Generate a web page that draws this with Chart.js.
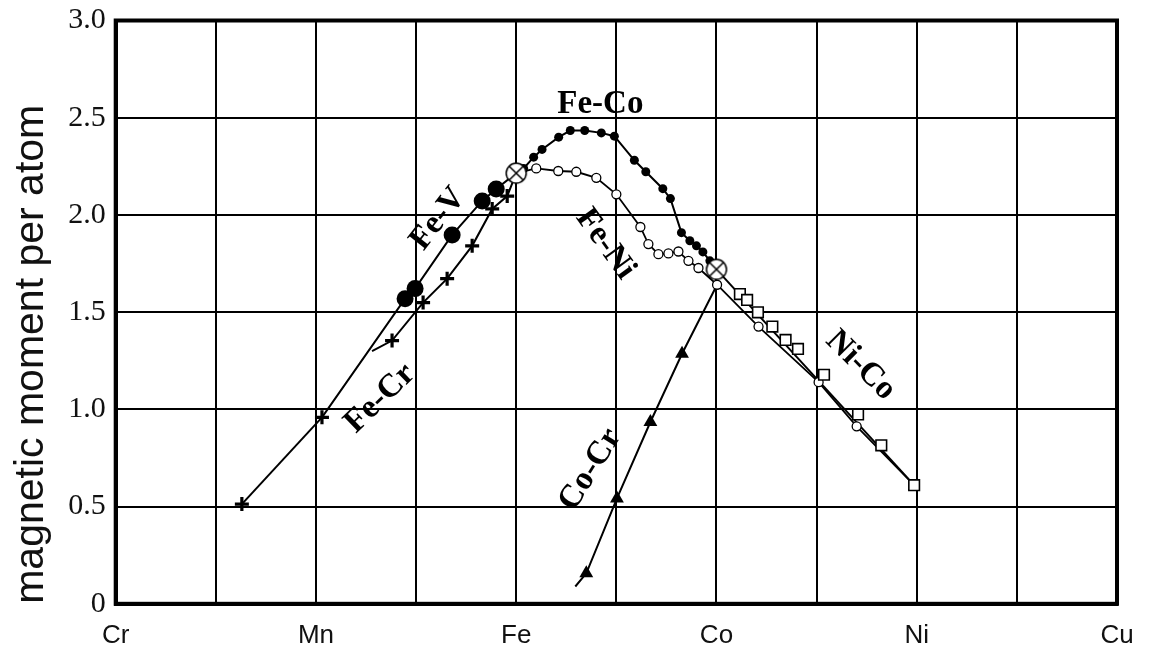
<!DOCTYPE html>
<html>
<head>
<meta charset="utf-8">
<script src="https://cdn.jsdelivr.net/npm/chart.js@4"></script>
<style>
  html, body { margin: 0; padding: 0; background: #fff; }
  #wrap { width: 1151px; height: 653px; }
</style>
</head>
<body>
<div id="wrap"><canvas id="chart"></canvas></div>
<script>
// x axis: number of outer electrons, Cr=24 ... Cu=29
const elementNames = ['Cr', 'Mn', 'Fe', 'Co', 'Ni', 'Cu'];
const yTicks = [0, 0.5, 1.0, 1.5, 2.0, 2.5, 3.0];

// pure Fe and pure Co (crossed circles)
const junctionX = [26.0, 27.0];
const junctionY = [2.215, 1.72];

// Fe-Co, filled small dots
const feCoX = [26.0, 26.037, 26.087, 26.129, 26.212, 26.27, 26.342, 26.425, 26.49, 26.59, 26.647, 26.732, 26.77, 26.825, 26.867, 26.90, 26.932, 26.967, 27.0];
const feCoY = [2.215, 2.239, 2.297, 2.337, 2.40, 2.434, 2.434, 2.422, 2.405, 2.281, 2.222, 2.135, 2.084, 1.909, 1.867, 1.841, 1.81, 1.764, 1.72];

// Fe-Ni, open circles (last point is the Ni end of the line)
const feNiX = [26.0, 26.10, 26.21, 26.30, 26.40, 26.50, 26.62, 26.66, 26.71, 26.76, 26.81, 26.86, 26.91, 27.003, 27.21, 27.51, 27.70, 27.987];
const feNiY = [2.215, 2.239, 2.226, 2.222, 2.191, 2.106, 1.938, 1.85, 1.798, 1.802, 1.812, 1.764, 1.727, 1.641, 1.426, 1.14, 0.913, 0.61];

// Fe-V, large filled dots (first point is where the line leaves the Mn cross)
const feVX = [25.03, 25.445, 25.495, 25.68, 25.83, 25.90, 26.0];
const feVY = [0.959, 1.569, 1.621, 1.897, 2.072, 2.133, 2.215];

// Fe-Cr, crosses (third point is the branch off the Fe-V line)
const feCrX = [24.63, 25.03, 25.28, 25.38, 25.535, 25.655, 25.78, 25.88, 25.955, 26.0];
const feCrY = [0.513, 0.959, 1.30, 1.354, 1.549, 1.672, 1.841, 2.031, 2.097, 2.215];

// Ni-Co, open squares
const niCoX = [27.117, 27.153, 27.207, 27.279, 27.345, 27.407, 27.537, 27.707, 27.823, 27.987];
const niCoY = [1.593, 1.563, 1.499, 1.426, 1.357, 1.311, 1.178, 0.974, 0.815, 0.61];

// Co-Cr, filled triangles (line runs from first to last point)
const coCrX = [26.295, 26.35, 26.503, 26.67, 26.828, 27.003];
const coCrY = [0.089, 0.157, 0.542, 0.935, 1.286, 1.641];

// curve names written on the plot: [text, x, y, angle in degrees]
const curveLabels = [
  ['Fe-Co', 26.42, 2.57, 0],
  ['Fe-V', 25.61, 1.98, -52],
  ['Fe-Ni', 26.445, 1.85, 54],
  ['Fe-Cr', 25.32, 1.056, -44],
  ['Ni-Co', 27.72, 1.226, 45],
  ['Co-Cr', 26.37, 0.69, -58]
];

function pts(xs, ys) {
  return xs.map((x, i) => ({ x: x, y: ys[i] }));
}

// circle with an x inside, used for the pure elements
function crossedCircle(r) {
  const c = document.createElement('canvas');
  c.width = c.height = 2 * r + 4;
  const g = c.getContext('2d');
  const m = r + 2;
  g.fillStyle = '#fff';
  g.strokeStyle = '#000';
  g.lineWidth = 1.5;
  g.beginPath();
  g.arc(m, m, r, 0, Math.PI * 2);
  g.fill();
  g.stroke();
  const d = r * Math.SQRT1_2;
  g.beginPath();
  g.moveTo(m - d, m - d); g.lineTo(m + d, m + d);
  g.moveTo(m - d, m + d); g.lineTo(m + d, m - d);
  g.stroke();
  return c;
}

const lastIdx = (arr) => arr.length - 1;

const framePlugin = {
  id: 'frame',
  afterDatasetsDraw(chart) {
    const { ctx, chartArea: a, scales } = chart;
    ctx.save();
    ctx.strokeStyle = '#000';
    ctx.lineWidth = 4;
    ctx.strokeRect(a.left, a.top, a.right - a.left, a.bottom - a.top);
    ctx.fillStyle = '#000';
    ctx.font = 'bold 33px "Liberation Serif", "Times New Roman", serif';
    ctx.textAlign = 'center';
    ctx.textBaseline = 'middle';
    curveLabels.forEach(([t, x, y, ang]) => {
      ctx.save();
      ctx.translate(scales.x.getPixelForValue(x), scales.y.getPixelForValue(y));
      ctx.rotate(ang * Math.PI / 180);
      ctx.fillText(t, 0, 0);
      ctx.restore();
    });
    ctx.restore();
  }
};

const ctx = document.getElementById('chart').getContext('2d');
new Chart(ctx, {
  type: 'scatter',
  data: {
    datasets: [
      {
        label: 'Fe, Co',
        data: pts(junctionX, junctionY),
        showLine: false,
        pointStyle: crossedCircle(10),
        order: 0
      },
      {
        label: 'Fe-Co',
        data: pts(feCoX, feCoY),
        showLine: true,
        borderColor: '#000',
        borderWidth: 2,
        pointStyle: 'circle',
        pointRadius: feCoX.map((v, i) => (i === 0 || i === lastIdx(feCoX)) ? 0 : 4.5),
        pointBackgroundColor: '#000',
        pointBorderColor: '#000',
        pointBorderWidth: 0,
        order: 3
      },
      {
        label: 'Fe-Ni',
        data: pts(feNiX, feNiY),
        showLine: true,
        borderColor: '#000',
        borderWidth: 1.8,
        pointStyle: 'circle',
        pointRadius: feNiX.map((v, i) => (i === 0 || i === lastIdx(feNiX)) ? 0 : 4.5),
        pointBackgroundColor: '#fff',
        pointBorderColor: '#000',
        pointBorderWidth: 1.3,
        order: 2
      },
      {
        label: 'Fe-V',
        data: pts(feVX, feVY),
        showLine: true,
        borderColor: '#000',
        borderWidth: 2,
        pointStyle: 'circle',
        pointRadius: feVX.map((v, i) => (i === 0 || i === lastIdx(feVX)) ? 0 : 8.5),
        pointBackgroundColor: '#000',
        pointBorderColor: '#000',
        pointBorderWidth: 0,
        order: 5
      },
      {
        label: 'Fe-Cr',
        data: pts(feCrX, feCrY),
        showLine: true,
        borderColor: '#000',
        borderWidth: 2,
        segment: {
          borderColor: (c) => c.p0DataIndex === 1 ? 'rgba(0,0,0,0)' : '#000'
        },
        pointStyle: 'cross',
        pointRadius: feCrX.map((v, i) => (i === 2 || i === lastIdx(feCrX)) ? 0 : 7),
        pointBorderColor: '#000',
        pointBorderWidth: 3.2,
        order: 4
      },
      {
        label: 'Ni-Co line',
        data: pts([junctionX[1], niCoX[lastIdx(niCoX)]], [junctionY[1], niCoY[lastIdx(niCoY)]]),
        showLine: true,
        borderColor: '#000',
        borderWidth: 2,
        pointRadius: 0,
        order: 7
      },
      {
        label: 'Ni-Co',
        data: pts(niCoX, niCoY),
        showLine: false,
        pointStyle: 'rect',
        pointRadius: 7.5,
        pointBackgroundColor: '#fff',
        pointBorderColor: '#000',
        pointBorderWidth: 1.6,
        order: 1
      },
      {
        label: 'Co-Cr',
        data: pts(coCrX, coCrY),
        showLine: true,
        borderColor: '#000',
        borderWidth: 2,
        pointStyle: 'triangle',
        pointRadius: coCrX.map((v, i) => (i === 0 || i === lastIdx(coCrX)) ? 0 : 8),
        pointBackgroundColor: '#000',
        pointBorderColor: '#000',
        pointBorderWidth: 0,
        order: 6
      }
    ]
  },
  options: {
    responsive: true,
    maintainAspectRatio: false,
    animation: false,
    events: [],
    layout: { padding: { top: 0, right: 34, bottom: -14, left: 7 } },
    plugins: {
      legend: { display: false },
      tooltip: { enabled: false }
    },
    scales: {
      x: {
        type: 'linear',
        min: 24,
        max: 29,
        afterBuildTicks: (s) => {
          s.ticks = [];
          for (let v = 24; v <= 29.001; v += 0.5) s.ticks.push({ value: v });
        },
        ticks: {
          autoSkip: false,
          maxRotation: 0,
          padding: 16,
          color: '#111',
          font: { family: '"Liberation Sans", Arial, sans-serif', size: 26 },
          callback: (v) => Number.isInteger(v) ? elementNames[v - 24] : ''
        },
        grid: { color: '#000', lineWidth: 2, drawTicks: false },
        border: { display: true, color: '#000', width: 4 }
      },
      y: {
        min: 0,
        max: 3,
        afterBuildTicks: (s) => {
          s.ticks = yTicks.map((v) => ({ value: v }));
        },
        ticks: {
          padding: 10,
          color: '#111',
          font: { family: '"Liberation Serif", "Times New Roman", serif', size: 30, lineHeight: 0.7 },
          callback: (v) => v === 0 ? '0' : v.toFixed(1)
        },
        grid: { color: '#000', lineWidth: 2, drawTicks: false },
        border: { display: true, color: '#000', width: 4 },
        title: {
          display: true,
          text: 'magnetic moment per atom',
          align: 'start',
          color: '#111',
          padding: { top: 0, bottom: 2 },
          font: { family: '"Liberation Sans", Arial, sans-serif', size: 41 }
        }
      }
    }
  },
  plugins: [framePlugin]
});
</script>
</body>
</html>
